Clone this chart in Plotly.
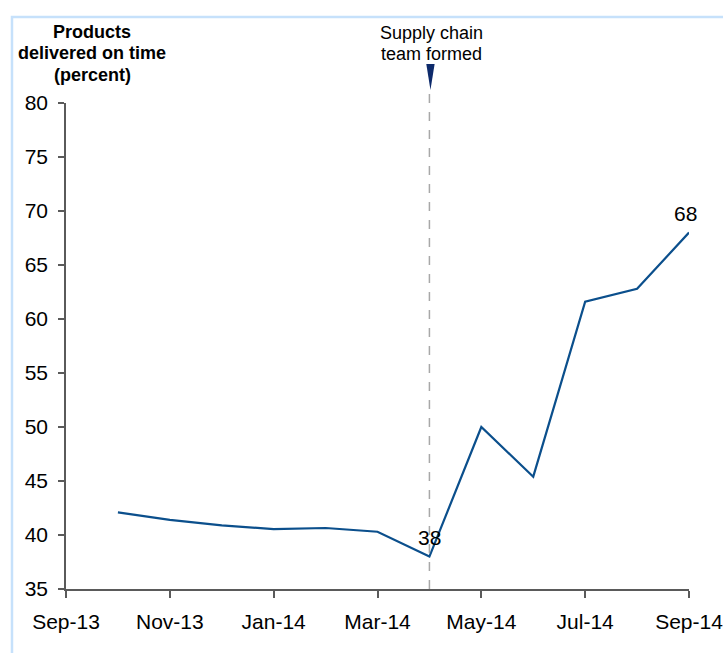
import plotly.graph_objects as go

# Month axis (category positions) and on-time delivery share by month
axis_months = ["Sep-13", "Oct-13", "Nov-13", "Dec-13", "Jan-14", "Feb-14", "Mar-14",
               "Apr-14", "May-14", "Jun-14", "Jul-14", "Aug-14", "Sep-14"]
data_months = ["Oct-13", "Nov-13", "Dec-13", "Jan-14", "Feb-14", "Mar-14",
               "Apr-14", "May-14", "Jun-14", "Jul-14", "Aug-14", "Sep-14"]
on_time_pct = [42.1, 41.4, 40.9, 40.55, 40.65, 40.3, 38.0, 50.0, 45.4, 61.6, 62.8, 68.0]
tick_labels = ["Sep-13", "Nov-13", "Jan-14", "Mar-14", "May-14", "Jul-14", "Sep-14"]
labelled_months = ["Apr-14", "Sep-14"]
label_xshift = [0, -4]
title_lines = ["Products", "delivered on time", "(percent)"]
event_month = "Apr-14"
event_lines = ["Supply chain", "team formed"]

idx = {m: i for i, m in enumerate(axis_months)}
x_vals = [idx[m] for m in data_months]
tick_vals = [idx[m] for m in tick_labels]
ev_x = idx[event_month]

FONT = "Liberation Sans, Arial, sans-serif"
LINE_COLOR = "#0b4f8c"
AXIS_COLOR = "#5a5a5a"
TICK_SIZE = 21
PLOT_TOP, PLOT_H = 103, 486


def paper_y(py):
    """Convert a pixel row (from the top of the page) into paper y."""
    return 1 + (PLOT_TOP - py) / PLOT_H


fig = go.Figure()
fig.add_trace(go.Scatter(
    x=x_vals, y=on_time_pct, mode="lines",
    line=dict(color=LINE_COLOR, width=2.2),
    hoverinfo="skip", showlegend=False, cliponaxis=False,
))

annotations = []
for m, dx in zip(labelled_months, label_xshift):
    v = on_time_pct[data_months.index(m)]
    annotations.append(dict(
        x=idx[m], y=v, xref="x", yref="y", text=f"{v:.0f}", showarrow=False,
        yshift=19, xshift=dx, font=dict(family=FONT, size=TICK_SIZE, color="black"),
    ))

# y-axis title block, one line per annotation for tight spacing
for line, py in zip(title_lines, [32, 53, 75]):
    annotations.append(dict(
        x=0.042, y=paper_y(py), xref="paper", yref="paper",
        text=f"<b>{line}</b>", showarrow=False,
        xanchor="center", yanchor="middle",
        font=dict(family=FONT, size=18, color="black"),
    ))
# event label
for line, py in zip(event_lines, [33, 54]):
    annotations.append(dict(
        x=ev_x, y=paper_y(py), xref="x", yref="paper", text=line, showarrow=False,
        xanchor="center", yanchor="middle", xshift=2,
        font=dict(family=FONT, size=18, color="black"),
    ))

shapes = [
    # dashed marker line at the event month
    dict(type="line", xref="x", yref="paper", x0=ev_x, x1=ev_x, y0=0, y1=paper_y(90),
         line=dict(color="#a8a8a8", width=1.5, dash="dash")),
    # pointer above the event line
    dict(type="path", xref="x", yref="paper",
         path=(f"M {ev_x - 0.06},{paper_y(64)} L {ev_x + 0.1},{paper_y(64)} "
               f"L {ev_x + 0.02},{paper_y(90)} Z"),
         fillcolor="#0d2a6b", line=dict(width=0)),
    # light frame around the chart
    dict(type="rect", xref="paper", yref="paper",
         x0=-0.0867, x1=1.2, y0=-0.3, y1=paper_y(17),
         line=dict(color="#c6e1fb", width=2.5), fillcolor="rgba(0,0,0,0)", layer="below"),
]

fig.update_layout(
    width=723, height=653,
    margin=dict(l=66, r=34, t=103, b=64, autoexpand=False),
    paper_bgcolor="white", plot_bgcolor="white",
    font=dict(family=FONT, size=TICK_SIZE, color="black"),
    showlegend=False,
    annotations=annotations,
    shapes=shapes,
    xaxis=dict(
        range=[0, 12], tickmode="array", tickvals=tick_vals, ticktext=tick_labels,
        showgrid=False, zeroline=False, showline=True, linecolor=AXIS_COLOR, linewidth=1.5,
        ticks="outside", ticklen=7, tickcolor=AXIS_COLOR, tickwidth=1.5,
        tickfont=dict(family=FONT, size=TICK_SIZE, color="black"),
        automargin=False, ticklabelstandoff=6, ticklabeloverflow="allow",
    ),
    yaxis=dict(
        range=[35, 80], tickmode="linear", tick0=35, dtick=5,
        showgrid=False, zeroline=False, showline=True, linecolor=AXIS_COLOR, linewidth=1.5,
        ticks="outside", ticklen=6, tickcolor=AXIS_COLOR, tickwidth=1.5,
        tickfont=dict(family=FONT, size=TICK_SIZE, color="black"),
        automargin=False, ticklabelstandoff=6, ticklabeloverflow="allow",
    ),
)

fig.write_html("out.html")
